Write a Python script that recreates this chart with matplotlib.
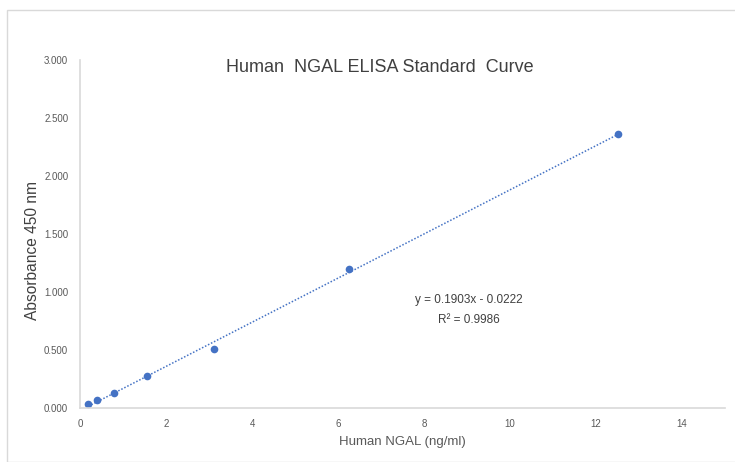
import matplotlib
matplotlib.use("Agg")
import matplotlib.pyplot as plt
from matplotlib.patches import Rectangle
import numpy as np

conc = [0.195, 0.39, 0.78, 1.5625, 3.125, 6.25, 12.5]
absorb = [0.035, 0.068, 0.130, 0.278, 0.505, 1.200, 2.365]
slope = 0.1903
intercept = -0.0222
r2 = 0.9986
xticks = [0, 2, 4, 6, 8, 10, 12, 14]
yticks = [0.0, 0.5, 1.0, 1.5, 2.0, 2.5, 3.0]

plt.rcParams['font.family'] = ['Liberation Sans', 'DejaVu Sans']
fig = plt.figure(figsize=(7.35, 4.62), dpi=100)
fig.patches.append(Rectangle((7/735, 0), 1, 1 - 10/462, transform=fig.transFigure,
                             fill=False, edgecolor='#d9d9d9', linewidth=1))
ax = fig.add_axes([80/735, 1 - 408/462, 645/735, 348/462])
blue = '#4472C4'
xs = np.array([conc[0], conc[-1]])
ax.plot(xs, slope * xs + intercept, linestyle=(0, (1, 1.2)), color=blue, linewidth=1.1)
ax.plot(conc, absorb, 'o', color=blue, markersize=5.5, markeredgewidth=0)

ax.set_xlim(0, 15)
ax.set_ylim(0, 3.0)
ax.set_xticks(xticks)
ax.set_yticks(yticks)
ax.set_yticklabels([f"{v:.3f}" for v in yticks])
for s in ['top', 'right']:
    ax.spines[s].set_visible(False)
for s in ['left', 'bottom']:
    ax.spines[s].set_color('#d9d9d9')
    ax.spines[s].set_linewidth(1.2)
ax.tick_params(length=0, labelsize=7, labelcolor='#595959')
ax.tick_params(axis='x', pad=8)
ax.tick_params(axis='y', pad=8.5)
ax.set_xlabel('Human NGAL (ng/ml)', fontsize=9.5, color='#595959', labelpad=5)
fig.text(33/735, 1 - 251/462, 'Absorbance 450 nm', rotation=90, ha='center', va='center',
         fontsize=11.2, color='#404040')
fig.text(380/735, 1 - 68/462, 'Human  NGAL ELISA Standard  Curve', ha='center', va='center',
         fontsize=13, color='#404040')
ax.text(9.05, 0.93, f'y = {slope}x - {abs(intercept)}', ha='center', va='center',
        fontsize=8.5, color='#404040')
ax.text(9.05, 0.76, f'R² = {r2}', ha='center', va='center', fontsize=8.5, color='#404040')
fig.savefig('out.png', dpi=100)
